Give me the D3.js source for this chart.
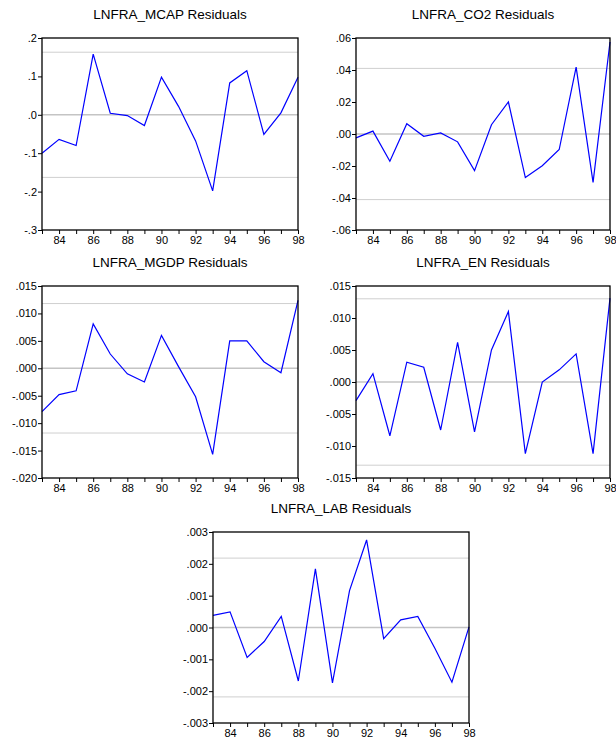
<!DOCTYPE html>
<html>
<head>
<meta charset="utf-8">
<script src="https://cdn.jsdelivr.net/npm/d3@7"></script>
<style>
  html, body { margin: 0; padding: 0; background: #fff; }
  svg { display: block; }
  text { font-family: "Liberation Sans", Arial, sans-serif; fill: #000; }
</style>
</head>
<body>
<svg id="chart" width="616" height="742"></svg>
<script>
// Years of the sample (1983-1998)
const years = [1983,1984,1985,1986,1987,1988,1989,1990,1991,1992,1993,1994,1995,1996,1997,1998];
const yearTicks = [1984,1986,1988,1990,1992,1994,1996,1998];

// Residual series
const mcapResid = [-0.100,-0.064,-0.080,0.158,0.004,-0.002,-0.028,0.098,0.022,-0.068,-0.198,0.083,0.115,-0.051,0.005,0.098];
const co2Resid  = [-0.0024,0.0018,-0.0170,0.0064,-0.0014,0.0007,-0.0049,-0.0229,0.0058,0.0200,-0.0272,-0.0198,-0.0097,0.0418,-0.0302,0.0575];
const mgdpResid = [-0.0079,-0.0048,-0.0041,0.0081,0.0026,-0.0010,-0.0025,0.0060,0.0003,-0.0052,-0.0157,0.0050,0.0050,0.0012,-0.0008,0.0124];
const enResid   = [-0.0029,0.0013,-0.0084,0.0031,0.0023,-0.0075,0.0062,-0.0078,0.0050,0.0110,-0.0112,0.0000,0.0019,0.0044,-0.0112,0.0131];
const labResid  = [0.00038,0.00049,-0.00094,-0.00044,0.00035,-0.00168,0.00184,-0.00174,0.00116,0.00275,-0.00035,0.00024,0.00035,-0.00065,-0.00172,0.00002];

// One standard-error bands
const mcapSE = 0.163, co2SE = 0.041, mgdpSE = 0.0118, enSE = 0.013, labSE = 0.00218;

// Y tick values and their labels
const mcapTicks = [0.2,0.1,0,-0.1,-0.2,-0.3];
const mcapLabels = [".2",".1",".0","-.1","-.2","-.3"];
const co2Ticks = [0.06,0.04,0.02,0,-0.02,-0.04,-0.06];
const co2Labels = [".06",".04",".02",".00","-.02","-.04","-.06"];
const mgdpTicks = [0.015,0.010,0.005,0,-0.005,-0.010,-0.015,-0.020];
const mgdpLabels = [".015",".010",".005",".000","-.005","-.010","-.015","-.020"];
const enTicks = [0.015,0.010,0.005,0,-0.005,-0.010,-0.015];
const enLabels = [".015",".010",".005",".000","-.005","-.010","-.015"];
const labTicks = [0.003,0.002,0.001,0,-0.001,-0.002,-0.003];
const labLabels = [".003",".002",".001",".000","-.001","-.002","-.003"];

const titles = ["LNFRA_MCAP Residuals","LNFRA_CO2 Residuals","LNFRA_MGDP Residuals","LNFRA_EN Residuals","LNFRA_LAB Residuals"];

const panels = [
  {title: titles[0], values: mcapResid, se: mcapSE, ticks: mcapTicks, labels: mcapLabels, box: [42, 38, 298, 230]},
  {title: titles[1], values: co2Resid,  se: co2SE,  ticks: co2Ticks,  labels: co2Labels,  box: [356, 38, 610, 230]},
  {title: titles[2], values: mgdpResid, se: mgdpSE, ticks: mgdpTicks, labels: mgdpLabels, box: [42, 286, 298, 478]},
  {title: titles[3], values: enResid,   se: enSE,   ticks: enTicks,   labels: enLabels,   box: [356, 286, 610, 478]},
  {title: titles[4], values: labResid,  se: labSE,  ticks: labTicks,  labels: labLabels,  box: [213, 532, 469, 723]}
];

const svg = d3.select("#chart");

panels.forEach(p => {
  const [x0, y0, x1, y1] = p.box;
  const g = svg.append("g");

  const x = d3.scaleLinear().domain([years[0], years[years.length - 1]]).range([x0, x1]);
  const y = d3.scaleLinear().domain([d3.min(p.ticks), d3.max(p.ticks)]).range([y1, y0]);

  // Title
  g.append("text")
    .attr("x", (x0 + x1) / 2)
    .attr("y", y0 - 19)
    .attr("text-anchor", "middle")
    .style("font-size", "13.5px")
    .text(p.title);

  // Reference lines: +/- one standard error and zero
  [p.se, -p.se].forEach(v => {
    g.append("line")
      .attr("x1", x0).attr("x2", x1)
      .attr("y1", y(v)).attr("y2", y(v))
      .attr("stroke", "#cfcfcf").attr("stroke-width", 1);
  });
  g.append("line")
    .attr("x1", x0).attr("x2", x1)
    .attr("y1", y(0)).attr("y2", y(0))
    .attr("stroke", "#c4c4c4").attr("stroke-width", 1.4);

  // Residual line
  const line = d3.line().x((d, i) => x(years[i])).y(d => y(d));
  g.append("path")
    .datum(p.values)
    .attr("d", line)
    .attr("fill", "none")
    .attr("stroke", "#0000ff")
    .attr("stroke-width", 1.2)
    .attr("stroke-linejoin", "miter");

  // Frame
  g.append("rect")
    .attr("x", x0).attr("y", y0)
    .attr("width", x1 - x0).attr("height", y1 - y0)
    .attr("fill", "none").attr("stroke", "#000").attr("stroke-width", 1.3);

  // Y axis
  const labelOf = new Map(p.ticks.map((t, i) => [t, p.labels[i]]));
  const yAxis = d3.axisLeft(y)
    .tickValues(p.ticks)
    .tickSize(4)
    .tickFormat(d => labelOf.get(d));
  const ya = g.append("g").attr("transform", `translate(${x0},0)`).call(yAxis);
  ya.select(".domain").remove();
  ya.selectAll(".tick line").attr("stroke", "#000");
  ya.selectAll(".tick text")
    .attr("x", -5)
    .style("font-size", "11px")
    .style("font-family", "'Liberation Sans', Arial, sans-serif");

  // X axis: a tick every year, labels on even years
  const xAxis = d3.axisBottom(x)
    .tickValues(years)
    .tickSize(4)
    .tickFormat(d => yearTicks.includes(d) ? String(d).slice(2) : "");
  const xa = g.append("g").attr("transform", `translate(0,${y1})`).call(xAxis);
  xa.select(".domain").remove();
  xa.selectAll(".tick line").attr("stroke", "#000");
  xa.selectAll(".tick text")
    .attr("y", 6)
    .style("font-size", "11px")
    .style("font-family", "'Liberation Sans', Arial, sans-serif");
});
</script>
</body>
</html>
